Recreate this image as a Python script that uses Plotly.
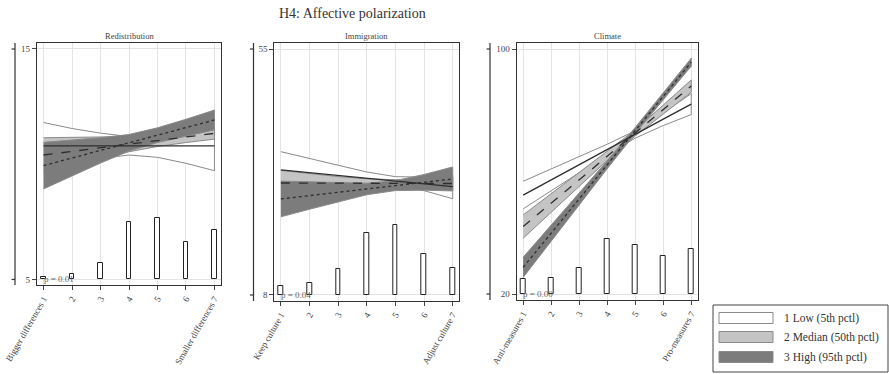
import plotly.graph_objects as go

# ---------------- data ----------------
x_vals = [1, 2, 3, 4, 5, 6, 7]
panel_titles = ["Redistribution", "Immigration", "Climate"]
group_names = ["1 Low (5th pctl)", "2 Median (50th pctl)", "3 High (95th pctl)"]

redis_xlabels = ["Bigger differences 1", "2", "3", "4", "5", "6", "Smaller differences 7"]
immig_xlabels = ["Keep culture 1", "2", "3", "4", "5", "6", "Adjust culture 7"]
clim_xlabels = ["Anti-measures 1", "2", "3", "4", "5", "6", "Pro-measures 7"]

redis_yticks = [5, 15]
immig_yticks = [8, 55]
clim_yticks = [20, 100]

# Redistribution: predicted values and CI half-widths
redis_low_mean = [10.80, 10.80, 10.80, 10.80, 10.80, 10.80, 10.80]
redis_low_hw = [1.01, 0.75, 0.55, 0.40, 0.50, 0.76, 1.08]
redis_med_mean = [10.40, 10.56, 10.71, 10.87, 11.03, 11.18, 11.34]
redis_med_hw = [0.75, 0.60, 0.45, 0.33, 0.26, 0.24, 0.25]
redis_high_mean = [9.94, 10.27, 10.60, 10.93, 11.26, 11.59, 11.92]
redis_high_hw = [1.01, 0.78, 0.55, 0.36, 0.32, 0.36, 0.43]
redis_dist = [1.0, 2.5, 7.0, 24.8, 26.7, 16.3, 21.6]

# Immigration
immig_low_mean = [31.89, 31.36, 30.83, 30.30, 29.76, 29.23, 28.70]
immig_low_hw = [3.49, 2.76, 1.95, 1.20, 0.85, 1.30, 2.30]
immig_med_mean = [29.40, 29.38, 29.37, 29.35, 29.33, 29.32, 29.30]
immig_med_hw = [2.40, 1.80, 1.25, 0.85, 0.70, 0.90, 1.30]
immig_high_mean = [26.35, 26.99, 27.62, 28.26, 28.90, 29.53, 30.17]
immig_high_hw = [3.41, 2.60, 1.80, 1.10, 0.95, 1.50, 2.29]
immig_dist = [3.7, 4.7, 10.4, 25.0, 28.5, 16.6, 11.1]

# Climate
clim_low_mean = [52.3, 57.3, 62.2, 67.2, 72.1, 77.1, 82.0]
clim_low_hw = [4.5, 3.6, 2.6, 1.7, 1.2, 2.1, 3.4]
clim_med_mean = [42.0, 49.7, 57.3, 65.0, 72.6, 80.3, 87.9]
clim_med_hw = [3.8, 3.0, 2.2, 1.4, 1.0, 1.4, 2.0]
clim_high_mean = [28.7, 39.9, 51.0, 62.2, 73.4, 84.5, 95.7]
clim_high_hw = [3.3, 2.6, 1.9, 1.3, 1.0, 1.1, 1.3]
clim_dist = [6.3, 6.5, 10.7, 22.6, 20.0, 15.7, 18.2]

p_texts = ["p = 0.01", "p = 0.04", "p = 0.00"]

# ---------------- styling / geometry ----------------
W, H = 889, 374
FONT = "Liberation Serif, DejaVu Serif, serif"
band_fills = ["#ffffff", "#c4c4c4", "#7c7c7c"]
band_edge = "#8a8a8a"
line_dash = ["solid", "dash", "dot"]
line_col = "#2e2e2e"

# pixel geometry of each plot region: (left, right, top, bottom), outer axis x
geom = [
    dict(l=37, r=221, t=43, b=285, outer=15, yr=[4.76, 15.26]),
    dict(l=274.3, r=459.3, t=43, b=301, outer=253.5, yr=[6.85, 56.15]),
    dict(l=516.7, r=697.7, t=43, b=300, outer=490, yr=[18.04, 101.96]),
]

panels = [
    dict(xl=redis_xlabels, yt=redis_yticks,
         means=[redis_low_mean, redis_med_mean, redis_high_mean],
         hws=[redis_low_hw, redis_med_hw, redis_high_hw], dist=redis_dist),
    dict(xl=immig_xlabels, yt=immig_yticks,
         means=[immig_low_mean, immig_med_mean, immig_high_mean],
         hws=[immig_low_hw, immig_med_hw, immig_high_hw], dist=immig_dist),
    dict(xl=clim_xlabels, yt=clim_yticks,
         means=[clim_low_mean, clim_med_mean, clim_high_mean],
         hws=[clim_low_hw, clim_med_hw, clim_high_hw], dist=clim_dist),
]

fig = go.Figure()
shapes = []
annotations = []

for i, (pan, g) in enumerate(zip(panels, geom)):
    sfx = "" if i == 0 else str(i + 1)
    xa, ya = "x" + sfx, "y" + sfx
    # bands
    for k in range(3):
        m, h = pan["means"][k], pan["hws"][k]
        up = [a + b for a, b in zip(m, h)]
        lo = [a - b for a, b in zip(m, h)]
        fig.add_trace(go.Scatter(
            x=x_vals + x_vals[::-1], y=up + lo[::-1], fill="toself",
            fillcolor=band_fills[k], line=dict(color=band_edge, width=1),
            mode="lines", showlegend=False, hoverinfo="skip", xaxis=xa, yaxis=ya))
    # mean lines
    for k in range(3):
        fig.add_trace(go.Scatter(
            x=x_vals, y=pan["means"][k], mode="lines",
            line=dict(color=line_col, width=1.3, dash=line_dash[k]),
            showlegend=False, xaxis=xa, yaxis=ya))
    # distribution bars
    tmin, tmax = min(pan["yt"]), max(pan["yt"])
    fig.add_trace(go.Bar(
        x=x_vals, y=[d / 100 * (tmax - tmin) for d in pan["dist"]], base=tmin,
        width=0.16, marker=dict(color="#ffffff", line=dict(color="#222222", width=1)),
        showlegend=False, xaxis=xa, yaxis=ya))

    xdom = [g["l"] / W, g["r"] / W]
    ydom = [1 - g["b"] / H, 1 - g["t"] / H]
    axis_common = dict(showline=True, mirror=True, linecolor="#333333", linewidth=1.2,
                       ticks="outside", ticklen=4, tickcolor="#444444", automargin=False,
                       showgrid=True, gridcolor="#e3e3e3", gridwidth=1,
                       zeroline=False, tickfont=dict(family=FONT, size=9, color="#444444"))
    fig.update_layout(**{
        ("xaxis" + sfx): dict(domain=xdom, range=[0.77, 7.23], tickmode="array",
                              tickvals=x_vals, ticktext=pan["xl"], tickangle=-60,
                              anchor=ya, **axis_common),
        ("yaxis" + sfx): dict(domain=ydom, range=g["yr"], tickmode="array",
                              tickvals=pan["yt"], ticktext=[str(t) for t in pan["yt"]],
                              anchor=xa, **axis_common),
    })
    # outer axis line with small ticks
    ox = g["outer"] / W
    shapes.append(dict(type="line", xref="paper", yref=ya + " domain", x0=ox, x1=ox,
                       y0=0, y1=1, line=dict(color="#333333", width=1.2)))
    for t in pan["yt"]:
        shapes.append(dict(type="line", xref="paper", yref=ya, x0=ox - 3.5 / W, x1=ox,
                           y0=t, y1=t, line=dict(color="#333333", width=1.2)))
    # panel title
    annotations.append(dict(text=panel_titles[i], xref=xa + " domain", yref=ya + " domain",
                            x=0.5, y=1, yanchor="bottom", xanchor="center", yshift=0,
                            showarrow=False, font=dict(family=FONT, size=8.5, color="#444444")))
    # p-value
    annotations.append(dict(text=p_texts[i], xref=xa, yref=ya, x=1, y=tmin,
                            xanchor="left", yanchor="middle", showarrow=False, xshift=-2,
                            font=dict(family=FONT, size=9, color="#666666")))

# main title
annotations.append(dict(text="H4: Affective polarization", xref="paper", yref="paper",
                        x=352 / W, y=1 - 13 / H, xanchor="center", yanchor="middle",
                        showarrow=False, font=dict(family=FONT, size=14, color="#333333")))

# legend (drawn manually)
shapes.append(dict(type="rect", xref="paper", yref="paper", x0=713 / W, x1=888 / W,
                   y0=1 - 372 / H, y1=1 - 305 / H, line=dict(color="#444444", width=1),
                   fillcolor="#ffffff", layer="below"))
leg_rows = [318, 337, 357]
for k, name in enumerate(group_names):
    cy = leg_rows[k]
    shapes.append(dict(type="rect", xref="paper", yref="paper", x0=719 / W, x1=773 / W,
                       y0=1 - (cy + 5.5) / H, y1=1 - (cy - 5.5) / H,
                       line=dict(color=band_edge, width=1), fillcolor=band_fills[k]))
    annotations.append(dict(text=name, xref="paper", yref="paper", x=782 / W, y=1 - cy / H,
                            xanchor="left", yanchor="middle", showarrow=False,
                            font=dict(family=FONT, size=11.5, color="#333333")))

fig.update_layout(width=W, height=H, margin=dict(l=0, r=0, t=0, b=0),
                  paper_bgcolor="#ffffff", plot_bgcolor="#ffffff",
                  shapes=shapes, annotations=annotations, bargap=0,
                  showlegend=False)
fig.write_html("out.html")
